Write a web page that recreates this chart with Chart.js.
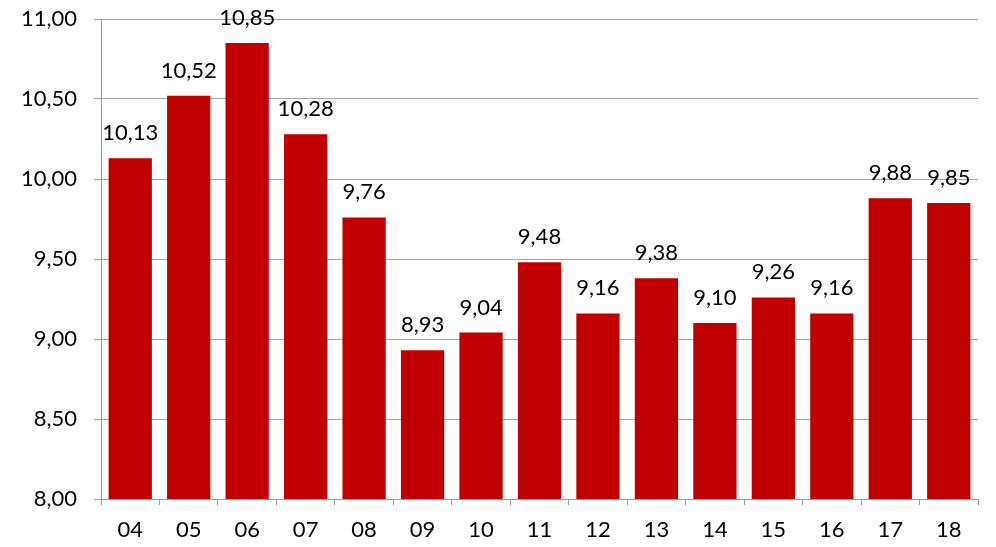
<!DOCTYPE html>
<html>
<head>
<meta charset="utf-8">
<script src="https://cdn.jsdelivr.net/npm/chart.js@4"></script>
<style>
  html, body { margin: 0; padding: 0; background: #fff; }
  #wrap { width: 996px; height: 547px; }
</style>
</head>
<body>
<div id="wrap"><canvas id="chart" width="996" height="547"></canvas></div>
<script>
var years = ['04', '05', '06', '07', '08', '09', '10', '11', '12', '13', '14', '15', '16', '17', '18'];
var values = [10.13, 10.52, 10.85, 10.28, 9.76, 8.93, 9.04, 9.48, 9.16, 9.38, 9.10, 9.26, 9.16, 9.88, 9.85];
var yTicks = [8, 8.5, 9, 9.5, 10, 10.5, 11];

function fmt(v) {
    return v.toFixed(2).replace('.', ',');
}

// value labels above each bar
var barLabels = {
    id: 'barLabels',
    afterDatasetsDraw: function(chart) {
        var ctx = chart.ctx;
        var meta = chart.getDatasetMeta(0);
        ctx.save();
        ctx.font = '22px Lato';
        ctx.fillStyle = '#000';
        ctx.textAlign = 'center';
        ctx.textBaseline = 'bottom';
        for (var i = 0; i < meta.data.length; i++) {
            var bar = meta.data[i];
            ctx.fillText(fmt(values[i]), bar.x, bar.y - 14);
        }
        ctx.restore();
    }
};

var ctx = document.getElementById('chart').getContext('2d');
var myChart = new Chart(ctx, {
    type: 'bar',
    data: {
        labels: years,
        datasets: [{
            data: values,
            backgroundColor: '#c00000',
            borderWidth: 0,
            barPercentage: 0.74,
            categoryPercentage: 1
        }]
    },
    options: {
        responsive: false,
        animation: false,
        layout: { padding: { top: 19, right: 18, left: 0, bottom: 0 } },
        plugins: {
            legend: { display: false },
            tooltip: { enabled: false }
        },
        scales: {
            x: {
                offset: true,
                grid: {
                    offset: true,
                    drawOnChartArea: false,
                    color: '#999',
                    tickLength: 6
                },
                border: { color: '#999', width: 1 },
                ticks: {
                    color: '#000',
                    font: { family: 'Lato', size: 22 },
                    padding: 12
                },
                afterFit: function(scale) {
                    scale.height = 48;
                    scale.paddingLeft = 0;
                    scale.paddingRight = 0;
                }
            },
            y: {
                min: 8,
                max: 11,
                afterBuildTicks: function(scale) {
                    scale.ticks = yTicks.map(function(v) { return { value: v }; });
                },
                grid: {
                    color: '#a6a6a6',
                    tickLength: 7
                },
                border: { color: '#999', width: 1 },
                ticks: {
                    color: '#000',
                    font: { family: 'Lato', size: 22 },
                    padding: 17,
                    callback: function(v) { return fmt(v); }
                },
                afterFit: function(scale) {
                    scale.width = 101;
                    scale.paddingTop = 0;
                    scale.paddingBottom = 0;
                }
            }
        }
    },
    plugins: [barLabels]
});
</script>
</body>
</html>
